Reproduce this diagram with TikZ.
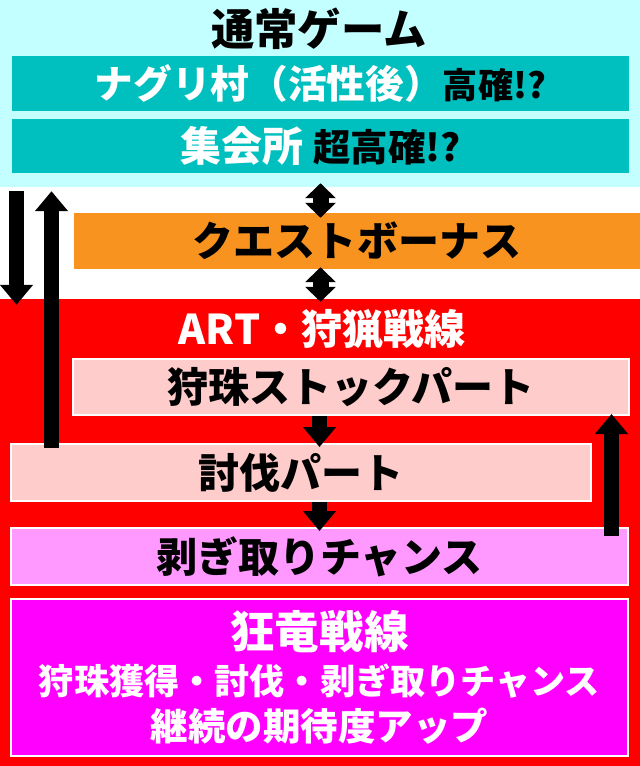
\documentclass[tikz,border=0pt]{standalone}
\usepackage{fontspec}
\setmainfont{Noto Sans CJK JP}
\usetikzlibrary{arrows.meta}
\usetikzlibrary{calc}

\definecolor{cyanbg}{HTML}{C4FFFF}
\definecolor{tealbox}{HTML}{00BFBF}
\definecolor{orangebox}{HTML}{F7931E}
\definecolor{redbg}{HTML}{FF0000}
\definecolor{pinkbox}{HTML}{FFCCCC}
\definecolor{lilacbox}{HTML}{FF99FF}
\definecolor{magentabox}{HTML}{FF00FF}

\newcommand{\fs}[1]{\fontsize{#1}{#1}\selectfont}

\begin{document}
\begin{tikzpicture}[x=0.3mm,y=-0.3mm]

\tikzstyle{every node}=[font=\bfseries, inner sep=0pt]
\tikzstyle{area}=[minimum width=192mm]
\tikzstyle{bar}=[minimum height=16.8mm]
\tikzstyle{framed}=[draw=white, line width=0.6mm]
\tikzstyle{bigarrow}=[line width=4.5mm, -{Triangle[width=9.6mm,length=6mm]}]
\tikzstyle{dblarrow}=[line width=4.8mm,
	{Triangle[width=9mm,length=4.5mm]}-{Triangle[width=9mm,length=4.5mm]}]

\useasboundingbox (0,0) rectangle (640,766);

% areas
\node (normal) at (320,93.5) [area, fill=cyanbg, minimum height=56.1mm] {};
\node (art) at (320,532.5) [area, fill=redbg, minimum height=140.1mm] {};

\node (normaltitle) at (319,29) [font=\bfseries\fs{37}] {通常ゲーム};
\node (naguri) at (320.5,83.5) [bar, fill=tealbox, minimum width=184.8mm, minimum height=16.5mm]
	{\color{white}\fs{33}ナグリ村（活性後）\color{black}\fs{30}高確!?};
\node (shukai) at (320.5,146) [bar, fill=tealbox, minimum width=184.8mm, minimum height=16.2mm]
	{\color{white}\fs{35}集会所\hspace{3mm}\color{black}\fs{32}超高確!?};

\node (quest) at (357,241) [bar, fill=orangebox, minimum width=169.8mm] {\fs{35}クエストボーナス};

\node (arttitle) at (322,329) [text=white, font=\bfseries\fs{35}] {ART・狩猟戦線};
\node (stock) at (351,387) [bar, framed, fill=pinkbox, minimum width=166.8mm] {\fs{35}狩珠ストックパート};
\node (touba) at (301,472.5) [bar, framed, fill=pinkbox, minimum width=174mm, minimum height=17.1mm] {\fs{35}討伐パート};
\node (hagi) at (319.5,556.5) [bar, framed, fill=lilacbox, minimum width=185.1mm, minimum height=17.1mm] {\fs{35}剥ぎ取りチャンス};
\node (kyoryu) at (319.5,677.5) [framed, fill=magentabox, minimum width=185.1mm, minimum height=47.1mm,
	align=center, text=white, font=\bfseries\fontsize{32}{39}\selectfont]
	{{\fs{38}狂竜戦線}\\{\fs{30}狩珠獲得・討伐・剥ぎ取りチャンス}\\継続の期待度アップ};

% connectors
\coordinate (lx1) at (16.5,0);
\coordinate (lx2) at (51.5,0);
\coordinate (rx) at (611.5,0);

\draw[bigarrow, shorten <=1.2mm, shorten >=-1.8mm] (lx1 |- normal.south) -- (lx1 |- art.north);
\draw[bigarrow, shorten <=-1.5mm, shorten >=1.2mm] (lx2 |- touba.north) -- (lx2 |- normal.south);
\draw[bigarrow, shorten <=-2.7mm, shorten >=-0.6mm] (rx |- hagi.north) -- (rx |- stock.south);

\draw[dblarrow, shorten <=3mm, shorten >=-1.5mm] (shukai.south) -- (shukai.south |- quest.north);
\draw[dblarrow, shorten <=-0.6mm, shorten >=-0.9mm] (shukai.south |- quest.south) -- (shukai.south |- art.north);

\draw[bigarrow, shorten >=-1.2mm] (hagi.north |- stock.south) -- (hagi.north |- touba.north);
\draw[bigarrow, shorten >=-1.2mm] (hagi.north |- touba.south) -- (hagi.north);

\end{tikzpicture}
\end{document}
